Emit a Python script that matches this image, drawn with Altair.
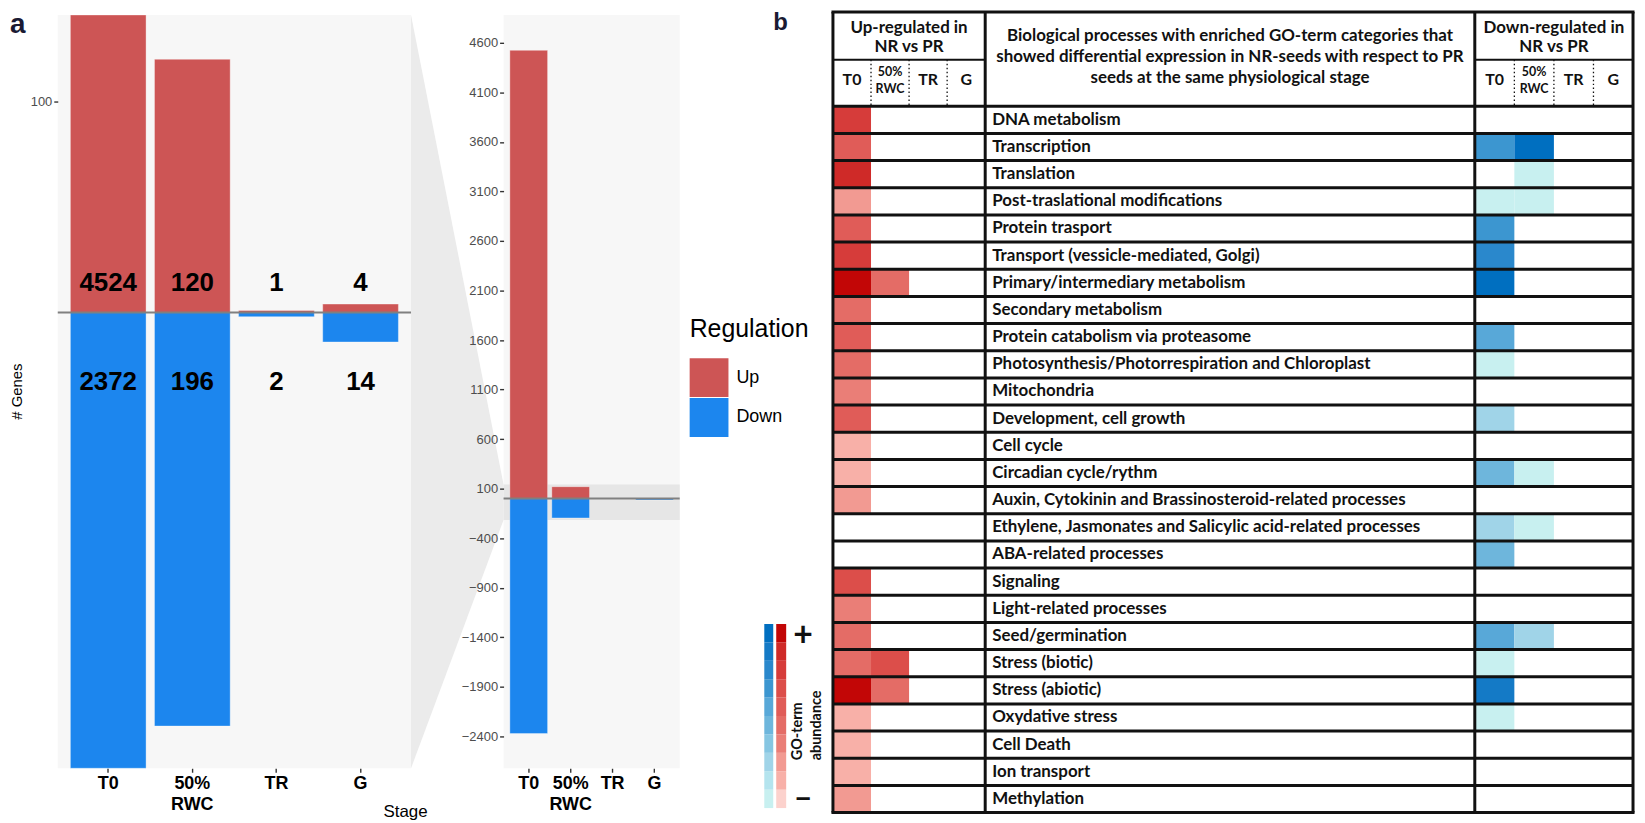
import altair as alt
import pandas as pd

# ---------------- data ----------------
STAGES = ["T0", "50% RWC", "TR", "G"]
UP_COUNTS = [4524, 120, 1, 4]
DOWN_COUNTS = [2372, 196, 2, 14]
REGULATION = ["Up", "Down"]
REG_COLORS = ["#CD5555", "#1C86EE"]
ZOOM_LIMITS = [-216, 141]
FULL_LIMITS = [-2722, 4881]
LEFT_TICKS = [100]
RIGHT_TICKS = [4600, 4100, 3600, 3100, 2600, 2100, 1600, 1100, 600, 100,
               -400, -900, -1400, -1900, -2400]
LABEL_Y_UP = 14
LABEL_Y_DOWN = -33

PROCESSES = [
    "DNA metabolism",
    "Transcription",
    "Translation",
    "Post-traslational modifications",
    "Protein trasport",
    "Transport (vessicle-mediated, Golgi)",
    "Primary/intermediary metabolism",
    "Secondary metabolism",
    "Protein catabolism via proteasome",
    "Photosynthesis/Photorrespiration and Chloroplast",
    "Mitochondria",
    "Development, cell growth",
    "Cell cycle",
    "Circadian cycle/rythm",
    "Auxin, Cytokinin and Brassinosteroid-related processes",
    "Ethylene, Jasmonates and Salicylic acid-related processes",
    "ABA-related processes",
    "Signaling",
    "Light-related processes",
    "Seed/germination",
    "Stress (biotic)",
    "Stress (abiotic)",
    "Oxydative stress",
    "Cell Death",
    "Ion transport",
    "Methylation",
]
# GO-term abundance level (0 = not enriched, 1 = low ... 10 = high)
UP_T0 = [8, 6, 9, 3, 6, 8, 10, 5, 6, 5, 4, 6, 2, 2, 3, 0, 0, 7, 4, 5, 5, 10, 2, 2, 2, 3]
UP_50RWC = [0, 0, 0, 0, 0, 0, 5, 0, 0, 0, 0, 0, 0, 0, 0, 0, 0, 0, 0, 0, 7, 5, 0, 0, 0, 0]
UP_TR = [0, 0, 0, 0, 0, 0, 0, 0, 0, 0, 0, 0, 0, 0, 0, 0, 0, 0, 0, 0, 0, 0, 0, 0, 0, 0]
UP_G = [0, 0, 0, 0, 0, 0, 0, 0, 0, 0, 0, 0, 0, 0, 0, 0, 0, 0, 0, 0, 0, 0, 0, 0, 0, 0]
DOWN_T0 = [0, 7, 0, 1, 7, 8, 10, 0, 6, 1, 0, 3, 0, 5, 0, 3, 5, 0, 0, 6, 1, 9, 1, 0, 0, 0]
DOWN_50RWC = [0, 10, 1, 1, 0, 0, 0, 0, 0, 0, 0, 0, 0, 1, 0, 1, 0, 0, 0, 3, 0, 0, 0, 0, 0, 0]
DOWN_TR = [0, 0, 0, 0, 0, 0, 0, 0, 0, 0, 0, 0, 0, 0, 0, 0, 0, 0, 0, 0, 0, 0, 0, 0, 0, 0]
DOWN_G = [0, 0, 0, 0, 0, 0, 0, 0, 0, 0, 0, 0, 0, 0, 0, 0, 0, 0, 0, 0, 0, 0, 0, 0, 0, 0]
LEVELS = [1, 2, 3, 4, 5, 6, 7, 8, 9, 10]
RED_RAMP = ["#fcd2cd", "#f8b0a8", "#f29a92", "#ea7e77", "#e46c66",
            "#e05c58", "#dc4e4a", "#d63c3a", "#cf2a28", "#c20606"]
BLUE_RAMP = ["#c8f0f0", "#b4e4ee", "#a0d4e8", "#86c6e2", "#6eb6dc",
             "#58a8d8", "#3c96d0", "#2a88cc", "#147ac6", "#006fc0"]

UP_HEADER = ["Up-regulated in", "NR vs PR"]
DOWN_HEADER = ["Down-regulated in", "NR vs PR"]
DESC_HEADER = ["Biological processes with enriched GO-term categories that",
               "showed differential expression in NR-seeds with respect to PR",
               "seeds at the same physiological stage"]

# ---------------- layout (chart pixel space) ----------------
W, H = 1637, 815
LPX = (50, 405)
RPX = (498, 675)
PY = (5, 762)
TX = (829, 982, 1474, 1633)
T_TOP, T_MID, ROW_TOP, ROW_BOT = 2, 50, 96.7, 806.5
ARIAL = "Liberation Sans"
CAL = "Lato"
INK = "#111111"
TABLE_FONT = 17

one = pd.DataFrame({"k": [0]})

# ---------------- panel a ----------------
bars_df = pd.DataFrame({
    "stage": STAGES + STAGES,
    "regulation": ["Up"] * 4 + ["Down"] * 4,
    "genes": UP_COUNTS + [-v for v in DOWN_COUNTS],
    "label": [str(v) for v in UP_COUNTS + DOWN_COUNTS],
    "label_y": [LABEL_Y_UP] * 4 + [LABEL_Y_DOWN] * 4,
})


def bar_group(x_range, y_domain, ticks, y_title, x_title, labels, legend, band=None):
    xaxis = dict(orient="bottom", offset=PY[1] - H, labelExpr="split(datum.label, ' ')",
                 labelFont=ARIAL, labelFontSize=18, labelFontWeight="bold",
                 labelColor="black", labelLineHeight=21, labelPadding=2,
                 tickSize=4, tickColor="#333333", tickWidth=1.4, domain=False, grid=False,
                 labelAngle=0, zindex=2)
    if x_title:
        xaxis.update(title=x_title, titleX=399, titleY=43, titleAlign="center",
                     titleBaseline="middle", titleFont=ARIAL, titleFontSize=17,
                     titleFontWeight="normal", titleColor="black")
    else:
        xaxis.update(title="")
    yaxis = dict(orient="left", offset=-x_range[0], values=ticks, format="d",
                 labelFont=ARIAL, labelFontSize=13, labelColor="#4d4d4d", labelPadding=2,
                 tickSize=4, tickColor="#333333", tickWidth=1.4, domain=False, grid=False,
                 zindex=2)
    if y_title:
        yaxis.update(title=y_title, titleX=-41, titleY=383, titleAngle=270,
                     titleAlign="center", titleBaseline="middle", titleFont=ARIAL,
                     titleFontSize=15, titleFontWeight="normal", titleColor="black")
    else:
        yaxis.update(title="")
    xs = alt.Scale(domain=STAGES, range=list(x_range), paddingInner=0.1, paddingOuter=0.15)
    ys = alt.Scale(domain=y_domain, range=[PY[1], PY[0]], clamp=True, nice=False, zero=False)
    X = alt.X("stage:N", sort=STAGES, scale=xs, axis=alt.Axis(**xaxis))
    base = alt.Chart(bars_df)
    layers = []
    if band:
        layers.append(alt.Chart(one).mark_rect(color="#e6e6e6").encode(
            x=alt.value(x_range[0]), x2=alt.value(x_range[1]),
            y=alt.datum(band[1]), y2=alt.datum(band[0])))
    if legend:
        leg = alt.Legend(orient="none", legendX=685, legendY=309, title="Regulation",
                         titleFont=ARIAL, titleFontSize=25, titleFontWeight="normal",
                         titleColor="black", titlePadding=16, symbolType="square",
                         symbolSize=1521, symbolStrokeWidth=0, symbolOpacity=1,
                         labelFont=ARIAL, labelFontSize=18, labelColor="black",
                         labelOffset=8, rowPadding=1)
        color = alt.Color("regulation:N", scale=alt.Scale(domain=REGULATION, range=REG_COLORS),
                          legend=leg)
    else:
        color = alt.Color("regulation:N", scale=alt.Scale(domain=REGULATION, range=REG_COLORS),
                          legend=None)
    layers.append(base.mark_bar(stroke="#ffffff", strokeOpacity=0.45, strokeWidth=0.8).encode(
        x=X, y=alt.Y("genes:Q", scale=ys, axis=alt.Axis(**yaxis)), color=color))
    layers.append(alt.Chart(one).mark_rule(color="#808080", strokeWidth=2).encode(
        y=alt.datum(0), x=alt.value(x_range[0]), x2=alt.value(x_range[1])))
    if labels:
        layers.append(base.mark_text(font=ARIAL, fontSize=26, fontWeight="bold",
                                     color="black", baseline="middle").encode(
            x=X, y=alt.Y("label_y:Q", scale=ys, axis=alt.Axis(**yaxis)), text="label:N"))
    return alt.layer(*layers)


backgrounds = alt.layer(
    alt.Chart(one).mark_rect(color="#f7f7f7").encode(
        x=alt.value(LPX[0]), x2=alt.value(LPX[1]), y=alt.value(PY[0]), y2=alt.value(PY[1])),
    alt.Chart(one).mark_rect(color="#f7f7f7").encode(
        x=alt.value(RPX[0]), x2=alt.value(RPX[1]), y=alt.value(PY[0]), y2=alt.value(PY[1])),
)

trap_df = pd.DataFrame({"t": [0, 1],
                        "top": [FULL_LIMITS[1], ZOOM_LIMITS[1]],
                        "bot": [FULL_LIMITS[0], ZOOM_LIMITS[0]]})
trapezoid = alt.Chart(trap_df).mark_area(color="#ebebeb").encode(
    x=alt.X("t:Q", scale=alt.Scale(domain=[0, 1], range=[LPX[1], RPX[0]]), axis=None),
    y=alt.Y("top:Q", scale=alt.Scale(domain=FULL_LIMITS, range=[PY[1], PY[0]], nice=False,
                                     zero=False), axis=None),
    y2="bot:Q")

left_panel = bar_group(LPX, ZOOM_LIMITS, LEFT_TICKS, "# Genes", "Stage", True, True)
right_panel = bar_group(RPX, FULL_LIMITS, RIGHT_TICKS, None, None, False, False,
                        band=ZOOM_LIMITS)

# ---------------- panel b ----------------
rows = []
for stage, vals in zip(STAGES, [UP_T0, UP_50RWC, UP_TR, UP_G]):
    for p, v in zip(PROCESSES, vals):
        if v > 0:
            rows.append({"process": p, "stage": stage, "level": v, "dir": "up"})
for stage, vals in zip(STAGES, [DOWN_T0, DOWN_50RWC, DOWN_TR, DOWN_G]):
    for p, v in zip(PROCESSES, vals):
        if v > 0:
            rows.append({"process": p, "stage": stage, "level": v, "dir": "down"})
heat_df = pd.DataFrame(rows)
proc_df = pd.DataFrame({"process": PROCESSES})
stage_df = pd.DataFrame({"stage": STAGES})

row_scale = alt.Scale(domain=PROCESSES, range=[ROW_TOP, ROW_BOT], paddingInner=0, paddingOuter=0)


def stage_scale(x0, x1):
    return alt.Scale(domain=STAGES, range=[x0, x1], paddingInner=0, paddingOuter=0)


def heat(direction, x0, x1, ramp):
    xs = stage_scale(x0, x1)
    cells = alt.Chart(heat_df).transform_filter(alt.datum.dir == direction).mark_rect().encode(
        x=alt.X("stage:N", scale=xs, axis=None),
        y=alt.Y("process:N", scale=row_scale, axis=None),
        color=alt.Color("level:O", scale=alt.Scale(domain=LEVELS, range=ramp), legend=None))
    dots = alt.Chart(stage_df).transform_filter(alt.datum.stage != STAGES[0]).mark_rule(
        color=INK, strokeWidth=1.3, strokeDash=[1.5, 2.5]).encode(
        x=alt.X("stage:N", scale=xs, axis=None, bandPosition=0),
        y=alt.value(T_MID), y2=alt.value(ROW_TOP))
    big = alt.Chart(stage_df).transform_filter(alt.datum.stage != "50% RWC").mark_text(
        font=CAL, fontSize=16, fontWeight="bold", color=INK, baseline="middle").encode(
        x=alt.X("stage:N", scale=xs, axis=None), y=alt.value(70), text="stage:N")
    small = alt.Chart(stage_df).transform_filter(alt.datum.stage == "50% RWC").mark_text(
        font=CAL, fontSize=12.5, fontWeight="bold", color=INK, baseline="middle",
        lineBreak=" ", lineHeight=17).encode(
        x=alt.X("stage:N", scale=xs, axis=None), y=alt.value(62), text="stage:N")
    return alt.layer(cells, dots, big, small)


up_heat = heat("up", TX[0], TX[1], RED_RAMP)
down_heat = heat("down", TX[2], TX[3], BLUE_RAMP)

row_lines = alt.layer(
    alt.Chart(proc_df).mark_rule(color=INK, strokeWidth=3).encode(
        y=alt.Y("process:N", scale=row_scale, axis=None, bandPosition=0),
        x=alt.value(TX[0]), x2=alt.value(TX[3])),
    alt.Chart(proc_df).mark_text(font=CAL, fontSize=TABLE_FONT, fontWeight="bold", color=INK,
                                 align="left", baseline="middle").encode(
        y=alt.Y("process:N", scale=row_scale, axis=None),
        x=alt.value(TX[1] + 7), text="process:N"),
)

frame = []
for y in (T_TOP, ROW_BOT):
    frame.append(alt.Chart(one).mark_rule(color=INK, strokeWidth=3).encode(
        y=alt.value(y), x=alt.value(TX[0] - 1.5), x2=alt.value(TX[3] + 1.5)))
for x in TX:
    frame.append(alt.Chart(one).mark_rule(color=INK, strokeWidth=3).encode(
        x=alt.value(x), y=alt.value(T_TOP), y2=alt.value(ROW_BOT)))
for a, b in ((TX[0], TX[1]), (TX[2], TX[3])):
    frame.append(alt.Chart(one).mark_rule(color=INK, strokeWidth=2).encode(
        y=alt.value(T_MID), x=alt.value(a), x2=alt.value(b)))


def header(lines, xc, y_first, lh):
    return alt.Chart(pd.DataFrame({"t": ["\n".join(lines)]})).mark_text(
        font=CAL, fontSize=TABLE_FONT, fontWeight="bold", color=INK, align="center",
        baseline="middle", lineBreak="\n", lineHeight=lh).encode(
        x=alt.value(xc), y=alt.value(y_first), text="t:N")


headers = alt.layer(
    header(UP_HEADER, (TX[0] + TX[1]) / 2, 18, 19),
    header(DESC_HEADER, (TX[1] + TX[2]) / 2, 26, 21),
    header(DOWN_HEADER, (TX[2] + TX[3]) / 2, 18, 19),
)

lev_df = pd.DataFrame({"level": LEVELS})
lev_y = alt.Scale(domain=LEVELS[::-1], range=[617, 802], paddingInner=0, paddingOuter=0)
key_blue = alt.Chart(lev_df).mark_rect().encode(
    x=alt.value(760), x2=alt.value(769),
    y=alt.Y("level:O", scale=lev_y, axis=None),
    color=alt.Color("level:O", scale=alt.Scale(domain=LEVELS, range=BLUE_RAMP), legend=None))
key_red = alt.Chart(lev_df).mark_rect().encode(
    x=alt.value(772), x2=alt.value(782),
    y=alt.Y("level:O", scale=lev_y, axis=None),
    color=alt.Color("level:O", scale=alt.Scale(domain=LEVELS, range=RED_RAMP), legend=None))


def label(txt, x, y, size, font=CAL, weight="bold", angle=0, align="center",
          baseline="middle", color=INK):
    kw = dict(font=font, fontSize=size, fontWeight=weight, align=align,
              baseline=baseline, color=color)
    if angle:
        kw["angle"] = angle
    return alt.Chart(pd.DataFrame({"t": [txt]})).mark_text(**kw).encode(
        x=alt.value(x), y=alt.value(y), text="t:N")


texts = alt.layer(
    label("+", 799, 629, 34),
    label("\u2212", 799, 794, 30),
    label("GO-term", 794, 754, 14.5, angle=270, align="left"),
    label("abundance", 813, 754, 14.5, angle=270, align="left"),
    label("a", 2, 1, 28, font=ARIAL, align="left", baseline="top", color="#1a1a33"),
    label("b", 769, 1, 24, font=ARIAL, align="left", baseline="top", color="#1a1a33"),
)

chart = alt.layer(
    backgrounds, trapezoid, right_panel, left_panel,
    up_heat, down_heat, row_lines, *frame, headers, key_blue, key_red, texts,
).resolve_scale(
    x="independent", y="independent", color="independent"
).properties(
    width=W, height=H, padding=0, autosize=alt.AutoSizeParams(type="none")
).configure_view(stroke=None)

chart.save("out.html", embed_options={"renderer": "svg", "actions": False})
